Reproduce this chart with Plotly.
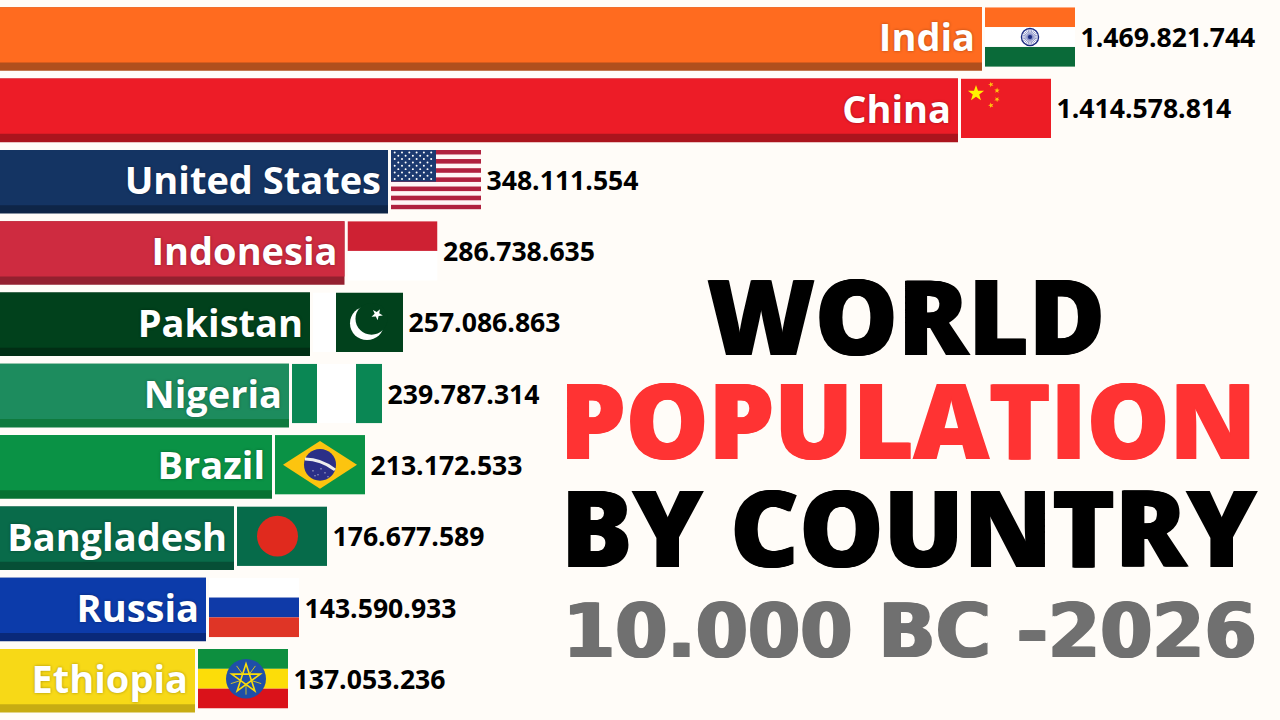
import base64
import math
import plotly.graph_objects as go

countries = ["India", "China", "United States", "Indonesia", "Pakistan",
             "Nigeria", "Brazil", "Bangladesh", "Russia", "Ethiopia"]
population_labels = ["1.469.821.744", "1.414.578.814", "348.111.554", "286.738.635", "257.086.863",
                     "239.787.314", "213.172.533", "176.677.589", "143.590.933", "137.053.236"]
# Bar lengths as drawn in the picture (the picture's bar scale is not linear in population)
bar_lengths = [982, 958, 388, 344.5, 310, 289, 272, 234, 206, 195]
bar_colors = ["#FF6B1F", "#ED1C27", "#143463", "#CE2B40", "#01411C",
              "#1D8C5E", "#0A9245", "#096B4A", "#0C3BAA", "#F7D917"]
strip_colors = ["#B04F1D", "#AB141D", "#0E2547", "#94202F", "#012E14",
                "#0F7A3E", "#077132", "#064F36", "#09297A", "#C7AC12"]
title_lines = ["WORLD", "POPULATION", "BY COUNTRY", "10.000 BC -2026"]
BG = "#FFFCF8"
ranks = list(range(len(countries)))


def star(cx, cy, r, fill, rot=-90):
    pts = []
    for k in range(10):
        rad = r if k % 2 == 0 else r * 0.4
        a = math.radians(rot + 36 * k)
        pts.append(f"{cx + rad * math.cos(a):.2f},{cy + rad * math.sin(a):.2f}")
    return f'<polygon points="{" ".join(pts)}" fill="{fill}"/>'


def rect(x, y, w, h, fill):
    return f'<rect x="{x}" y="{y}" width="{w}" height="{h}" fill="{fill}"/>'


def flag_india():
    s = rect(0, 0, 90, 20, "#FF6B1F") + rect(0, 20, 90, 20, "#FFFFFF") + rect(0, 40, 90, 20, "#0A6A39")
    s += '<circle cx="45" cy="30" r="8.6" fill="#fff" stroke="#1B2A80" stroke-width="1.3"/>'
    for k in range(24):
        a = math.radians(15 * k)
        s += (f'<line x1="45" y1="30" x2="{45 + 8 * math.cos(a):.2f}" y2="{30 + 8 * math.sin(a):.2f}" '
              'stroke="#4A55A8" stroke-width="0.6"/>')
    s += '<circle cx="45" cy="30" r="2" fill="#1B2A80"/>'
    return s


def flag_china():
    s = rect(0, 0, 90, 60, "#ED1C25") + star(15, 15, 8.5, "#FFF200")
    for cx, cy, rot in [(30, 6, -40), (36, 12, -15), (36, 21, 15), (30, 27, 40)]:
        s += star(cx, cy, 2.9, "#FFC20E", rot)
    return s


def flag_us():
    s = rect(0, 0, 90, 60, "#FFF5F5")
    h = 60 / 13
    for k in range(0, 13, 2):
        s += rect(0, round(k * h, 2), 90, round(h, 2), "#B0213F")
    s += rect(0, 0, 45, 32, "#1C3A70")
    for row in range(9):
        n = 6 if row % 2 == 0 else 5
        off = 3.7 if row % 2 == 0 else 7.3
        for c in range(n):
            s += f'<circle cx="{off + c * 7.3:.1f}" cy="{2.6 + row * 3.35:.1f}" r="1" fill="#fff"/>'
    return s


def flag_indonesia():
    return rect(0, 0, 90, 30, "#CE2133") + rect(0, 30, 90, 30, "#FFFFFF")


def flag_pakistan():
    s = rect(0, 0, 23, 60, "#FFFFFF") + rect(23, 0, 67, 60, "#01411C")
    s += '<circle cx="54" cy="31" r="17" fill="#FFFFFF"/><circle cx="58.5" cy="26.5" r="16" fill="#01411C"/>'
    s += star(64, 22, 6, "#FFFFFF", -60)
    return s


def flag_nigeria():
    return rect(0, 0, 25, 60, "#0A8754") + rect(25, 0, 40, 60, "#FFFFFF") + rect(64, 0, 26, 60, "#0A8754")


def flag_brazil():
    s = rect(0, 0, 90, 60, "#0A9245")
    s += '<polygon points="45,6 82,30 45,54 8,30" fill="#FCC40F"/>'
    s += '<circle cx="45" cy="30" r="16" fill="#2B2F87"/>'
    s += '<path d="M30 24 Q46 24 60 35" stroke="#EDEDED" stroke-width="3" fill="none"/>'
    for x, y in [(38, 36), (43, 40), (50, 38), (46, 34), (53, 42), (40, 41)]:
        s += f'<circle cx="{x}" cy="{y}" r="0.6" fill="#fff"/>'
    return s


def flag_bangladesh():
    return rect(0, 0, 90, 60, "#066B4A") + '<circle cx="40.5" cy="30" r="20.5" fill="#E02A1E"/>'


def flag_russia():
    return rect(0, 0, 90, 20, "#FFFFFF") + rect(0, 20, 90, 20, "#0F3AA8") + rect(0, 40, 90, 20, "#DF3526")


def flag_ethiopia():
    s = rect(0, 0, 90, 20, "#0D8F3F") + rect(0, 20, 90, 20, "#FCDD09") + rect(0, 40, 90, 20, "#DA121A")
    s += '<circle cx="48" cy="30" r="20" fill="#1F4FA8"/>'
    pts = []
    for k in range(5):
        a = math.radians(-90 + 144 * k)
        pts.append(f"{48 + 15 * math.cos(a):.2f},{30 + 15 * math.sin(a):.2f}")
    s += f'<polygon points="{" ".join(pts)}" fill="none" stroke="#FCDD09" stroke-width="1.6"/>'
    for k in range(5):
        a = math.radians(-54 + 72 * k)
        s += (f'<line x1="{48 + 5 * math.cos(a):.2f}" y1="{30 + 5 * math.sin(a):.2f}" '
              f'x2="{48 + 16 * math.cos(a):.2f}" y2="{30 + 16 * math.sin(a):.2f}" '
              'stroke="#FCDD09" stroke-width="0.8"/>')
    return s


flag_makers = [flag_india, flag_china, flag_us, flag_indonesia, flag_pakistan,
               flag_nigeria, flag_brazil, flag_bangladesh, flag_russia, flag_ethiopia]


def flag_uri(body):
    svg = (f'<svg xmlns="http://www.w3.org/2000/svg" width="360" height="240" viewBox="0 0 90 60" '
           f'preserveAspectRatio="none">{body}</svg>')
    return "data:image/svg+xml;base64," + base64.b64encode(svg.encode()).decode()


FLAG_GAP = 3
FLAG_W = 90
flag_starts = [v + FLAG_GAP for v in bar_lengths]
label_starts = [v + FLAG_W + 5.5 for v in flag_starts]
name_ends = [v - 7 for v in bar_lengths]
name_rows = [r + 0.04 for r in ranks]
value_rows = [r + 0.02 for r in ranks]

fig = go.Figure()
BAR_H = 0.892
FACE_H = 0.775
fig.add_trace(go.Bar(y=ranks, x=bar_lengths, orientation="h", marker_color=strip_colors,
                     marker_line_width=0, width=BAR_H, offset=-BAR_H / 2, showlegend=False,
                     hovertext=countries))
fig.add_trace(go.Bar(y=ranks, x=bar_lengths, orientation="h", marker_color=bar_colors,
                     marker_line_width=0, width=FACE_H, offset=-BAR_H / 2, showlegend=False,
                     hovertext=countries))
fig.add_trace(go.Scatter(y=name_rows, x=name_ends, mode="text", text=countries,
                         textposition="middle left", showlegend=False,
                         textfont=dict(family="Open Sans", size=38, color="#FFFFFF", weight=700,
                                       shadow="0px 0px 3px rgba(0,0,0,0.35)")))
fig.add_trace(go.Scatter(y=value_rows, x=label_starts, mode="text", text=population_labels,
                         textposition="middle right", showlegend=False,
                         textfont=dict(family="Open Sans", size=26.6, color="#000000", weight=700)))

images = []
for i, maker in enumerate(flag_makers):
    images.append(dict(source=flag_uri(maker()), xref="x", yref="y", x=flag_starts[i], y=i - BAR_H / 2,
                       sizex=FLAG_W, sizey=0.835, xanchor="left", yanchor="top", sizing="stretch",
                       layer="above"))

black_edge = "1px 0 0 #000000, -1px 0 0 #000000"
red_edge = "1px 0 0 #FF3333, -1px 0 0 #FF3333"
gray_edge = "1.5px 0 0 #707070, -1.5px 0 0 #707070"
title_styles = [
    dict(family="Open Sans", size=104, color="#000000", weight=800, x=906, y=314.5, shadow=black_edge),
    dict(family="Open Sans", size=104, color="#FF3333", weight=800, x=907.5, y=418, shadow=red_edge),
    dict(family="Open Sans", size=106, color="#000000", weight=800, x=909, y=526, shadow=black_edge),
    dict(family="DejaVu Sans", size=75, color="#707070", weight=700, x=909.5, y=631, shadow=gray_edge),
]
annotations = []
for line, st in zip(title_lines, title_styles):
    annotations.append(dict(text=line, xref="x", yref="paper", x=st["x"], y=1 - st["y"] / 720,
                            xanchor="center", yanchor="middle", showarrow=False,
                            font=dict(family=st["family"], size=st["size"], color=st["color"],
                                      weight=st["weight"], shadow=st["shadow"])))

fig.update_layout(
    width=1280, height=720, margin=dict(l=0, r=0, t=0, b=0), autosize=False,
    paper_bgcolor=BG, plot_bgcolor=BG, barmode="overlay",
    xaxis=dict(range=[0, 1280], visible=False, fixedrange=True),
    yaxis=dict(range=[9.55, -0.548], visible=False, fixedrange=True),
    images=images, annotations=annotations,
)
fig.write_html("out.html", config={"displayModeBar": False},
               post_script="document.body.style.margin='0';document.body.style.overflow='hidden';")
